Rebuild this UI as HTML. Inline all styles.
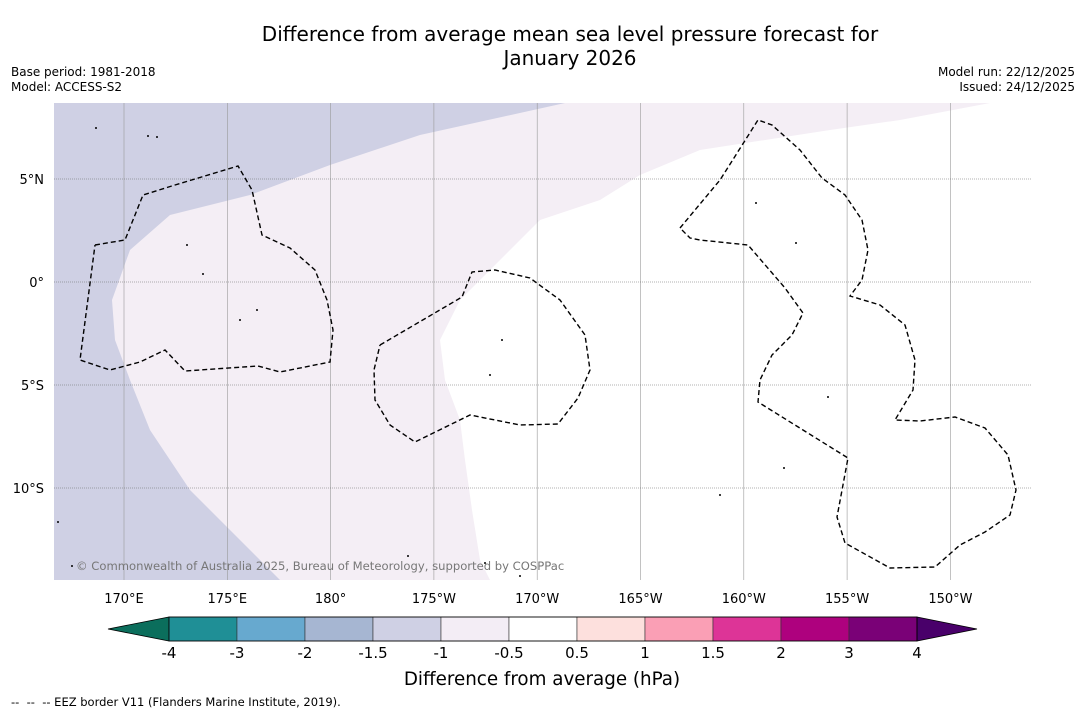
<!DOCTYPE html>
<html><head><meta charset="utf-8"><style>
body{margin:0;background:#fff;font-family:"DejaVu Sans","Liberation Sans",sans-serif;}
#wrap{position:relative;width:1085px;height:713px;overflow:hidden;background:#fff}
.t{position:absolute;color:#000}
</style></head><body>
<div id="wrap">
<div class="t" style="left:0;width:1140px;top:22px;text-align:center;font-size:20px;line-height:24px">Difference from average mean sea level pressure forecast for<br>January 2026</div>
<div class="t" style="left:11px;top:65px;font-size:12px;line-height:15px">Base period: 1981-2018<br>Model: ACCESS-S2</div>
<div class="t" style="right:10px;top:65px;font-size:12px;line-height:15px;text-align:right">Model run: 22/12/2025<br>Issued: 24/12/2025</div>
<svg id="svg" width="1085" height="713" style="position:absolute;left:0;top:0"></svg>
<div class="t" style="left:11px;top:695px;font-size:11.5px">-- &nbsp;-- &nbsp;-- EEZ border V11 (Flanders Marine Institute, 2019).</div>
</div>
<script>
const levels=[-4,-3,-2,-1.5,-1,-0.5,0.5,1,1.5,2,3,4];
const levelLabels=["-4","-3","-2","-1.5","-1","-0.5","0.5","1","1.5","2","3","4"];
const binColors=["#1f8f96","#67a9cf","#a6b6d2","#cfd0e4","#f3edf5","#ffffff","#fde0dd","#fa9fb5","#dd3497","#ae017e","#7a0177"];
const underColor="#0b6e5c", overColor="#49006a";
const lonTicks=[170,175,180,-175,-170,-165,-160,-155,-150];
const lonLabels=["170°E","175°E","180°","175°W","170°W","165°W","160°W","155°W","150°W"];
const latTicks=[5,0,-5,-10];
const latLabels=["5°N","0°","5°S","10°S"];
const NS="http://www.w3.org/2000/svg";
const svg=document.getElementById('svg');
function el(t,a,p){const e=document.createElementNS(NS,t);for(const k in a)e.setAttribute(k,a[k]);(p||svg).appendChild(e);return e;}
const X0=54,X1=1031,Y0=103,Y1=580;
function lonX(l){let v=l<0?l+360:l;return 124+(v-170)*20.66;}
function latY(l){return 282-l*20.6;}
const g=el('g',{});

el('rect',{x:X0,y:Y0,width:X1-X0,height:Y1-Y0,fill:'#fff'},g);
const pale=el('polygon',{fill:'#f4eef5',points:"54,103 990,103 900,120 830,130 700,150 640,175 600,200 540,220 500,260 460,300 440,340 445,380 460,420 465,460 472,510 480,560 490,580 54,580"},g);

const lav=el('polygon',{fill:binColors[3],points:"54,103 565,103 420,135 330,165 250,195 170,215 130,250 112,300 115,340 130,380 150,430 190,490 240,540 280,580 54,580"},g);

lonTicks.forEach((l,i)=>{const x=lonX(l);
 const ln=el('line',{x1:x,x2:x,y1:Y0,y2:Y1,stroke:'#999','stroke-width':0.6});
 
 const t=el('text',{x:x,y:603,'text-anchor':'middle','font-size':13});t.textContent=lonLabels[i];
 });
latTicks.forEach((l,i)=>{const y=latY(l);
 const ln=el('line',{x1:X0,x2:X1,y1:y,y2:y,stroke:'#666','stroke-width':0.6,'stroke-dasharray':'1,1'});
 
 const t=el('text',{x:44,y:y+5,'text-anchor':'end','font-size':13});t.textContent=latLabels[i];
 });
const eez=["95,245 125,240 143,195 175,185 238,166 252,190 262,235 290,248 315,270 327,300 333,330 330,362 280,372 258,366 185,371 165,350 140,362 110,370 80,360 95,245",
"380,345 462,297 472,272 495,270 530,278 560,300 585,335 590,370 578,398 558,424 520,425 470,415 415,442 390,425 375,400 374,370 380,345",
"680,228 720,180 758,120 772,125 800,150 822,178 845,195 862,220 868,250 862,280 850,296 880,305 905,325 915,360 913,390 895,420 920,421 955,417 985,428 1008,455 1016,490 1010,515 985,532 960,545 935,567 890,568 845,543 837,517 848,458 758,402 760,380 772,355 792,335 803,313 785,288 748,245 700,240 690,238 680,228"];
eez.forEach(p=>{const e=el('polyline',{points:p,fill:'none',stroke:'#000','stroke-width':1.4,'stroke-dasharray':'5,3'});
 });
[[96,128],[148,136],[157,137],[187,245],[203,274],[240,320],[257,310],[502,340],[490,375],[756,203],[796,243],[828,397],[784,468],[720,495],[58,522],[72,566],[408,556],[485,563],[520,576]].forEach(p=>{
 const e=el('circle',{cx:p[0],cy:p[1],r:1,fill:'#000'});
 });
const cp=el('text',{x:76,y:570,'font-size':11.6,fill:'#777'});cp.textContent="© Commonwealth of Australia 2025, Bureau of Meteorology, supported by COSPPac";

const cbX=169,cbW=68,cbY=617,cbH=24;
const ut=el('polygon',{points:`108,629 ${cbX},${cbY} ${cbX},${cbY+cbH}`,fill:underColor,stroke:'#000','stroke-width':0.8});

binColors.forEach((c,i)=>{const r=el('rect',{x:cbX+i*cbW,y:cbY,width:cbW,height:cbH,fill:c,stroke:'#333','stroke-width':0.6});
 });
const endX=cbX+binColors.length*cbW;
const ot=el('polygon',{points:`${endX},${cbY} 977,629 ${endX},${cbY+cbH}`,fill:overColor,stroke:'#000','stroke-width':0.8});

el('rect',{x:cbX,y:cbY,width:endX-cbX,height:cbH,fill:'none',stroke:'#000','stroke-width':0.8});
levels.forEach((v,i)=>{const t=el('text',{x:cbX+i*cbW,y:658,'text-anchor':'middle','font-size':15});t.textContent=levelLabels[i];
 });
const ct=el('text',{x:542,y:685,'text-anchor':'middle','font-size':18.3});ct.textContent="Difference from average (hPa)";

</script>
</body></html>
